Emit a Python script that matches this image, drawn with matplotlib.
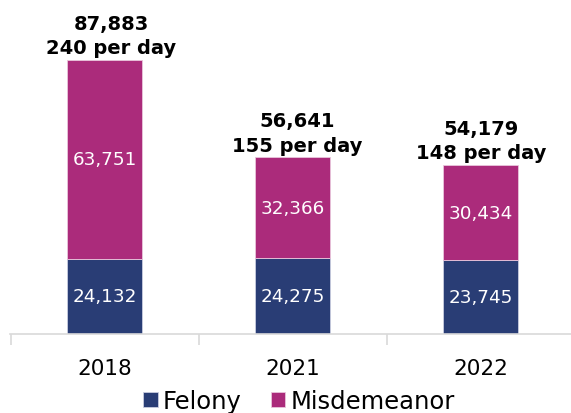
import numpy as np
import matplotlib.pyplot as plt

plt.rcParams['font.family'] = ['DejaVu Sans']

years = ['2018', '2021', '2022']
felony = [24132, 24275, 23745]
misdemeanor = [63751, 32366, 30434]
per_day = [240, 155, 148]

navy = '#293d75'
magenta = '#ab2b7b'

fig = plt.figure(figsize=(5.71, 4.14), dpi=100)
ax = fig.add_axes([10 / 571, 79 / 414, 561 / 571, 335 / 414])

x = np.arange(len(years))
totals = np.array(felony) + np.array(misdemeanor)
w = 0.40
b1 = ax.bar(x, felony, w, color=navy, edgecolor='#c9cde0', linewidth=0.6, label='Felony')
b2 = ax.bar(x, misdemeanor, w, bottom=felony, color=magenta, edgecolor='#e9c6dc',
            linewidth=0.6, label='Misdemeanor')

# total labels in the original sit a little right of centre on the first bars
label_dx = [0.035, 0.022, 0.003]
for xi, f, m, t, d, dx in zip(x, felony, misdemeanor, totals, per_day, label_dx):
    ax.text(xi, f / 2, f'{f:,}', ha='center', va='center', color='white', fontsize=13.2)
    ax.text(xi, f + m / 2, f'{m:,}', ha='center', va='center', color='white', fontsize=13.2)
    ax.text(xi + dx, t + 900, f'{t:,}\n{d} per day', ha='center', va='bottom',
            fontsize=14, fontweight='bold', color='black', linespacing=1.35)

ax.set_xlim(-0.503, 2.48)
ax.set_ylim(0, 107440)
ax.set_xticks(x)
ax.set_xticklabels(years, fontsize=15.5)
ax.tick_params(axis='x', length=0, pad=17)
ax.set_xticks([-0.5, 0.5, 1.5], minor=True)
ax.tick_params(axis='x', which='minor', length=8, width=1.2, color='#d9d9d9')
ax.set_yticks([])
for s in ['top', 'right', 'left']:
    ax.spines[s].set_visible(False)
ax.spines['bottom'].set_color('#d9d9d9')
ax.spines['bottom'].set_linewidth(1.2)

fig.legend(handles=[b1, b2], loc='center', bbox_to_anchor=(299 / 571, 12 / 414), ncol=2,
           frameon=False, fontsize=17.5, handlelength=0.58, handleheight=0.58,
           handletextpad=0.2, columnspacing=1.23, borderpad=0)

fig.savefig('out.png', dpi=100)
